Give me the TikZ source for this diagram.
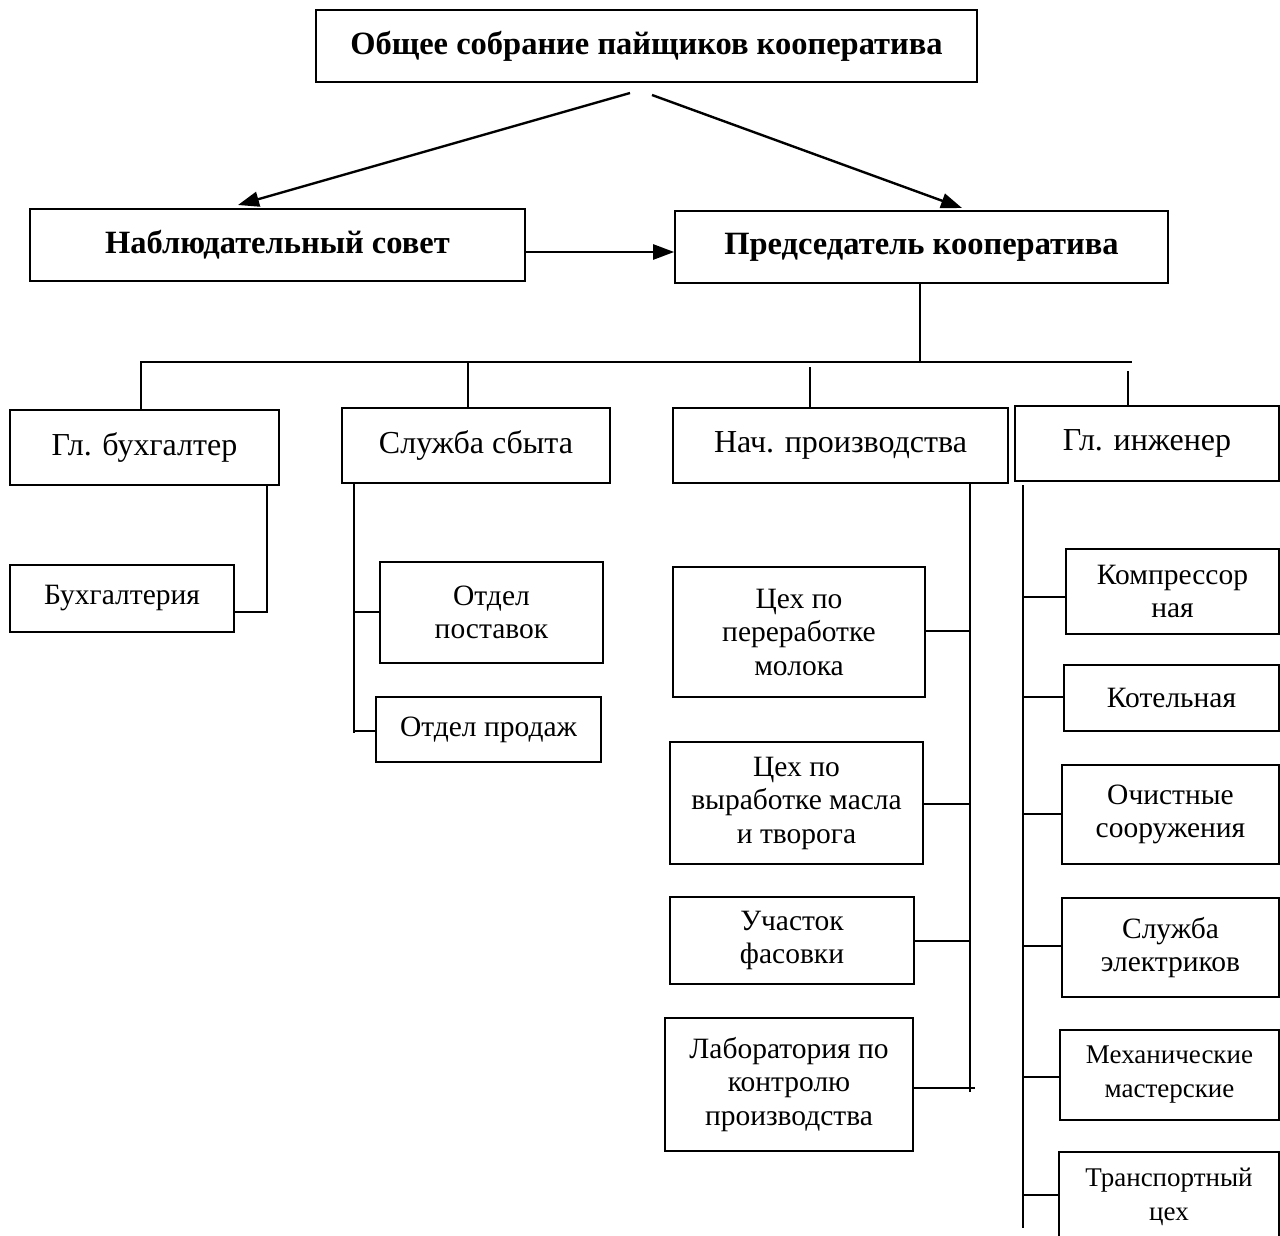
\documentclass[tikz,border=0pt]{standalone}
\usepackage{fontspec}
\setmainfont{Liberation Serif}
\usetikzlibrary{arrows.meta}
\begin{document}
\begin{tikzpicture}[x=1pt,y=-1pt,
  box/.style={draw,line width=1.6pt,inner sep=0pt,align=center,font=\fontsize{29.5}{33.5}\selectfont},
  hbox/.style={box,font=\fontsize{32}{36}\selectfont},
  bbox/.style={box,font=\fontsize{32.5}{36}\selectfont\bfseries},
  sbox/.style={box,font=\fontsize{27}{34}\selectfont},
  ln/.style={line width=1.6pt},
  arr/.style={line width=2.4pt,-{Triangle[length=21pt,width=15pt]}}]
\useasboundingbox (0,0) rectangle (1280,1236);
% level 0/1
\node[bbox,minimum width=661,minimum height=72] (top) at (646.5,46) {Общее собрание пайщиков кооператива};
\node[bbox,minimum width=495,minimum height=72] (nab) at (277.5,245) {Наблюдательный совет};
\node[bbox,minimum width=493,minimum height=72] (pred) at (921.5,247) {Председатель кооператива};
% level 2
\node[hbox,minimum width=269,minimum height=75] (glb) at (144.5,447.5) {Гл. бухгалтер};
\node[hbox,minimum width=268,minimum height=75] (sbyt) at (476,445.5) {Служба сбыта};
\node[hbox,minimum width=335,minimum height=75] (nach) at (840.5,445.5) {Нач. производства};
\node[hbox,minimum width=264,minimum height=75] (ing) at (1147,443.5) {Гл. инженер};
% level 3
\node[box,minimum width=224,minimum height=67] (buh) at (122,598.5) {Бухгалтерия};
\node[box,minimum width=223,minimum height=101] (post) at (491.5,612.5) {Отдел\\поставок};
\node[box,minimum width=225,minimum height=65] (prod) at (488.5,729.5) {Отдел продаж};
\node[box,minimum width=252,minimum height=130] (c1) at (799,632) {Цех по\\переработке\\молока};
\node[box,minimum width=253,minimum height=122] (c2) at (796.5,803) {Цех по\\выработке масла\\и творога};
\node[box,minimum width=244,minimum height=87] (c3) at (792,940.5) {Участок\\фасовки};
\node[box,minimum width=248,minimum height=133] (c4) at (789,1084.5) {Лаборатория по\\контролю\\производства};
\node[box,minimum width=213,minimum height=85] (k1) at (1172.5,591.5) {Компрессор\\ная};
\node[box,minimum width=215,minimum height=66] (k2) at (1171.5,698) {Котельная};
\node[box,minimum width=217,minimum height=99] (k3) at (1170.5,814.5) {Очистные\\сооружения};
\node[box,minimum width=217,minimum height=99] (k4) at (1170.5,947.5) {Служба\\электриков};
\node[sbox,minimum width=219,minimum height=90] (k5) at (1169.5,1075) {Механические\\мастерские};
\node[sbox,minimum width=220,minimum height=98,text depth=14pt] (k6) at (1169,1201) {Транспортный\\цех};
% arrows
\coordinate (a1) at (630,93);
\coordinate (a2) at (652,95);
\coordinate (t1) at (238,205);
\coordinate (t2) at (962,208);
\draw[arr] (a1) -- (t1);
\draw[arr] (a2) -- (t2);
\draw[arr] (nab.east |- 0,252) -- (pred.west |- 0,252);
% bus
\coordinate (busL) at (140,362);
\coordinate (busR) at (1132,362);
\coordinate (pj) at (920,362);
\draw[ln] (pj) -- (pj |- pred.south);
\draw[ln] (busL) -- (busR);
\coordinate (d1) at (141,362);
\coordinate (d2) at (468,362);
\coordinate (d3) at (810,367);
\coordinate (d4) at (1128,371);
\draw[ln] (d1) -- (d1 |- glb.north);
\draw[ln] (d2) -- (d2 |- sbyt.north);
\draw[ln] (d3) -- (d3 |- nach.north);
\draw[ln] (d4) -- (d4 |- ing.north);
% Гл. бухгалтер branch
\coordinate (g0) at (267,485);
\coordinate (g1) at (267,612);
\draw[ln] (g0) -- (g1) -- (g1 -| buh.east);
% Служба сбыта branch
\coordinate (s0) at (354,483);
\coordinate (s1) at (354,733);
\coordinate (s2) at (354,612);
\coordinate (s3) at (354,731);
\draw[ln] (s0) -- (s1);
\draw[ln] (s2) -- (s2 -| post.west);
\draw[ln] (s3) -- (s3 -| prod.west);
% Нач. производства branch
\coordinate (n0) at (970,483);
\coordinate (n1) at (970,1092);
\draw[ln] (n0) -- (n1);
\coordinate (n2) at (970,631);
\coordinate (n3) at (970,804);
\coordinate (n4) at (970,941);
\coordinate (n5) at (975,1088);
\draw[ln] (n2) -- (n2 -| c1.east);
\draw[ln] (n3) -- (n3 -| c2.east);
\draw[ln] (n4) -- (n4 -| c3.east);
\draw[ln] (n5) -- (n5 -| c4.east);
% Гл. инженер branch
\coordinate (e0) at (1023,485);
\coordinate (e1) at (1023,1228);
\draw[ln] (e0) -- (e1);
\coordinate (e2) at (1023,597);
\coordinate (e3) at (1023,697);
\coordinate (e4) at (1023,814);
\coordinate (e5) at (1023,946);
\coordinate (e6) at (1023,1077);
\coordinate (e7) at (1023,1195);
\draw[ln] (e2) -- (e2 -| k1.west);
\draw[ln] (e3) -- (e3 -| k2.west);
\draw[ln] (e4) -- (e4 -| k3.west);
\draw[ln] (e5) -- (e5 -| k4.west);
\draw[ln] (e6) -- (e6 -| k5.west);
\draw[ln] (e7) -- (e7 -| k6.west);
\end{tikzpicture}
\end{document}
